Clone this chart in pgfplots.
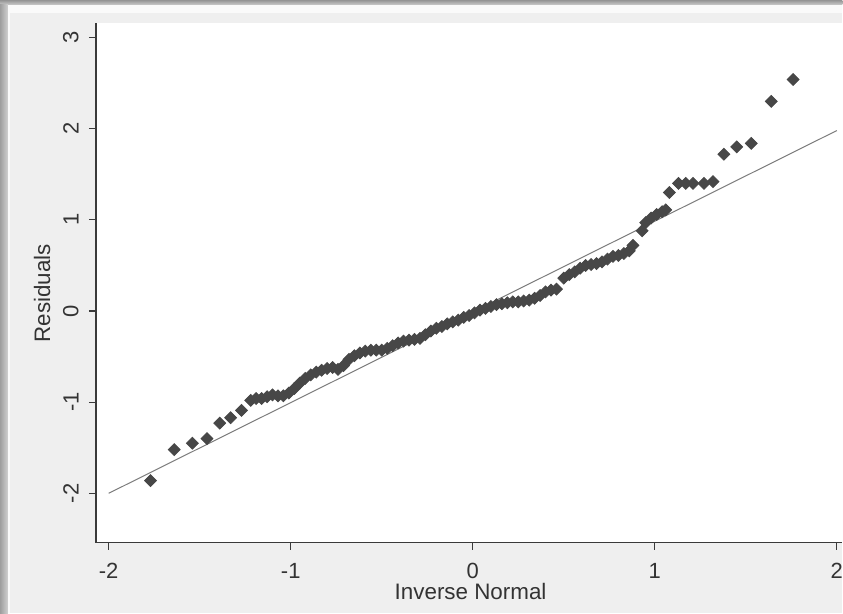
\documentclass[border=0pt]{standalone}
\usepackage{pgfplots}
\pgfplotsset{compat=1.18}
\usepackage{fontspec}
\setmainfont{Liberation Sans}

\definecolor{outerbg}{HTML}{EFEFEF}
\definecolor{markc}{HTML}{474747}
\definecolor{linec}{HTML}{7C7C7C}
\definecolor{axisc}{HTML}{3A3A3A}
\definecolor{labelc}{HTML}{333333}

\begin{document}
\begin{tikzpicture}
% window frame, 1px = 0.5pt, y counted from the bottom
\begin{scope}[x=0.5pt,y=0.5pt]
  \fill[white!98!black] (0,0) rectangle (843,614);
  \fill[outerbg] (10,0) rectangle (843,601);
  \shade[top color=black!42, bottom color=black!20] (0,609) rectangle (843,614);
  \shade[left color=black!38, right color=black!18] (0,0) rectangle (8,609);
\end{scope}

\begin{axis}[
    at={(48pt,35.5pt)}, anchor=south west,
    scale only axis,
    width=373.5pt, height=260pt,
    xmin=-2.07, xmax=2.03,
    ymin=-2.54, ymax=3.16,
    axis x line*=bottom, axis y line*=left,
    axis line style={draw=axisc, line width=0.7pt},
    axis background/.style={fill=white},
    xtick={-2,-1,0,1,2},
    ytick={-2,-1,0,1,2,3},
    tick align=outside,
    major tick length=3.5pt,
    tick style={draw=axisc, line width=0.6pt},
    /pgf/number format/assume math mode=true,
    ticklabel style={font=\fontsize{11}{13}\selectfont, text=labelc},
    yticklabel style={rotate=90, anchor=south, inner sep=0pt},
    xticklabel style={anchor=north, inner sep=0pt},
    yticklabel shift=5pt,
    xticklabel shift=6.5pt,
    xlabel={Inverse Normal},
    ylabel={Residuals},
    label style={font=\fontsize{11.2}{13}\selectfont, text=labelc},
    xlabel style={at={(axis description cs:0.502,-0.095)}, anchor=center},
    ylabel style={at={(axis description cs:-0.072,0.48)}, anchor=center},
]
% residual quantiles
\addplot[only marks, mark=square*, mark size=2.1pt,
    mark options={rotate=45, fill=markc, draw=markc}]
coordinates {
(-1.77,-1.86) (-1.64,-1.52) (-1.54,-1.45) (-1.46,-1.40) (-1.39,-1.23)
(-1.33,-1.17) (-1.27,-1.09) (-1.22,-0.98) (-1.19,-0.96) (-1.16,-0.96)
(-1.13,-0.94) (-1.10,-0.92) (-1.07,-0.93) (-1.04,-0.93) (-1.01,-0.90)
(-0.98,-0.85) (-0.95,-0.79) (-0.92,-0.74) (-0.89,-0.70) (-0.86,-0.67)
(-0.83,-0.65) (-0.80,-0.63) (-0.77,-0.62) (-0.74,-0.64) (-0.71,-0.60)
(-0.68,-0.53) (-0.65,-0.49) (-0.62,-0.46) (-0.59,-0.44) (-0.56,-0.43)
(-0.53,-0.43) (-0.50,-0.43) (-0.47,-0.41) (-0.44,-0.38) (-0.41,-0.35)
(-0.38,-0.33) (-0.35,-0.32) (-0.32,-0.31) (-0.29,-0.30) (-0.26,-0.26)
(-0.23,-0.22) (-0.20,-0.19) (-0.17,-0.17) (-0.14,-0.14) (-0.11,-0.12)
(-0.08,-0.10) (-0.05,-0.07) (-0.02,-0.05) (0.01,-0.02) (0.04,0.01)
(0.07,0.03) (0.10,0.05) (0.13,0.07) (0.16,0.08) (0.19,0.09)
(0.22,0.10) (0.25,0.10) (0.28,0.11) (0.31,0.12) (0.34,0.14)
(0.37,0.17) (0.40,0.21) (0.43,0.23) (0.46,0.24) (0.50,0.36)
(0.53,0.40) (0.56,0.43) (0.59,0.47) (0.62,0.50) (0.65,0.51)
(0.68,0.52) (0.71,0.54) (0.74,0.57) (0.77,0.60) (0.80,0.61)
(0.83,0.63) (0.86,0.66) (0.88,0.72) (0.93,0.88) (0.95,0.97)
(0.98,1.02) (1.01,1.06) (1.04,1.09) (1.06,1.11) (1.08,1.30)
(1.13,1.40) (1.17,1.40) (1.21,1.40) (1.27,1.40) (1.32,1.42)
(1.38,1.72) (1.45,1.80) (1.53,1.84) (1.64,2.30) (1.76,2.54)
};
% reference line
\addplot[linec, line width=0.5pt] coordinates {(-2,-2) (2,1.98)};
\end{axis}
\end{tikzpicture}
\end{document}
